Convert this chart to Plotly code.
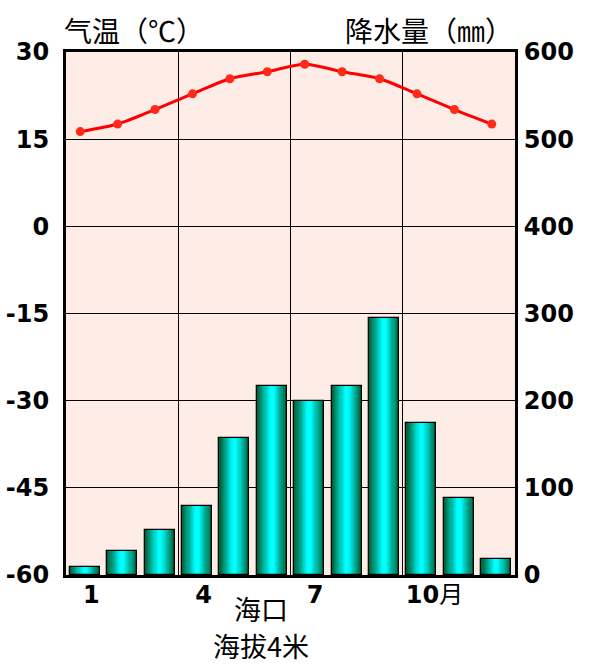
import plotly.graph_objects as go

months = list(range(1, 13))
temperature = [16.3, 17.6, 20.1, 22.8, 25.4, 26.6, 27.9, 26.6, 25.4, 22.8, 20.1, 17.6]
precipitation = [9, 27, 52, 79, 157, 217, 200, 217, 295, 174, 88, 18]
temp_ticks = [30, 15, 0, -15, -30, -45, -60]
prec_ticks = [600, 500, 400, 300, 200, 100, 0]
month_labels = ["1", "4", "7", "10<span style='font-family:Noto Sans CJK SC;font-weight:normal'>月</span>"]
month_label_pos = [1.18, 4.18, 7.16, 10.35]

fig = go.Figure()

# gradient bars via layered overlay
dark = (0, 100, 58)
light = (0, 255, 255)
n = 14
full_w = 0.8
for i in range(n):
    t = i / (n - 1)
    w = full_w * (1 - t) + 0.04 * t
    tt = min(1.0, t * 1.1)
    c = tuple(int(dark[k] + (light[k] - dark[k]) * tt) for k in range(3))
    fig.add_trace(go.Bar(x=months, y=precipitation, width=w, yaxis="y2",
                         marker=dict(color="rgb(%d,%d,%d)" % c, line=dict(width=0)),
                         showlegend=False, hoverinfo="skip"))
# outline
fig.add_trace(go.Bar(x=months, y=precipitation, width=full_w, yaxis="y2",
                     marker=dict(color="rgba(0,0,0,0)", line=dict(color="black", width=1.3)),
                     showlegend=False, hoverinfo="skip"))

fig.add_trace(go.Scatter(x=[m - 0.12 for m in months], y=temperature, mode="lines+markers",
                         line=dict(color="#FF0000", width=3, shape="spline", smoothing=0.8),
                         marker=dict(color="#FF2A1A", size=9),
                         showlegend=False))

tickfont = dict(family="DejaVu Sans", size=24, color="black", weight="bold")

fig.update_layout(
    width=612, height=668,
    margin=dict(l=66, r=97, t=52, b=93, autoexpand=False),
    paper_bgcolor="white",
    plot_bgcolor="#FDEDE6",
    barmode="overlay",
    bargap=0,
    xaxis=dict(range=[0.5, 12.5], tickvals=month_label_pos, ticktext=month_labels,
               ticks="", showgrid=False, tickfont=tickfont, automargin=False,
               ticklabelstandoff=-4,
               showline=True, linecolor="black", linewidth=3, mirror=True,
               zeroline=False,
               minor=dict(tick0=0.5, dtick=3, showgrid=True, gridcolor="black", gridwidth=1)),
    yaxis=dict(range=[-60, 30], tickvals=temp_ticks, ticktext=[str(v) for v in temp_ticks],
               showgrid=True, gridcolor="black", gridwidth=1, zeroline=False,
               tickfont=tickfont, ticks="", ticklabelstandoff=9, automargin=False,
               showline=True, linecolor="black", linewidth=3, mirror=True),
    yaxis2=dict(range=[0, 600], tickvals=prec_ticks, ticktext=[str(v) for v in prec_ticks],
                overlaying="y", side="right", showgrid=False, zeroline=False,
                tickfont=tickfont, ticks="", ticklabelstandoff=1, automargin=False,
                showline=True, linecolor="black", linewidth=3),
)

cjk = "Noto Sans CJK SC"
fig.add_annotation(text="气温（℃）", xref="paper", yref="paper", x=-0.01, y=1.0,
                   xanchor="left", yanchor="bottom", yshift=0, showarrow=False,
                   font=dict(family=cjk, size=28, color="black"))
fig.add_annotation(text="降水量（㎜）", xref="paper", yref="paper", x=1.0, y=1.0,
                   xanchor="right", yanchor="bottom", yshift=0, showarrow=False,
                   font=dict(family=cjk, size=28, color="black"))
fig.add_annotation(text="海口", xref="paper", yref="paper", x=(261 - 66) / 449, y=0,
                   xanchor="center", yanchor="middle", yshift=-33, showarrow=False,
                   font=dict(family=cjk, size=27, color="black"))
fig.add_annotation(text="海拔4米", xref="paper", yref="paper", x=(261 - 66) / 449, y=0,
                   xanchor="center", yanchor="middle", yshift=-70, showarrow=False,
                   font=dict(family=cjk, size=27, color="black"))

fig.write_html("out.html", config={"displayModeBar": False},
               post_script="document.body.style.margin='0';document.body.style.overflow='hidden';")
